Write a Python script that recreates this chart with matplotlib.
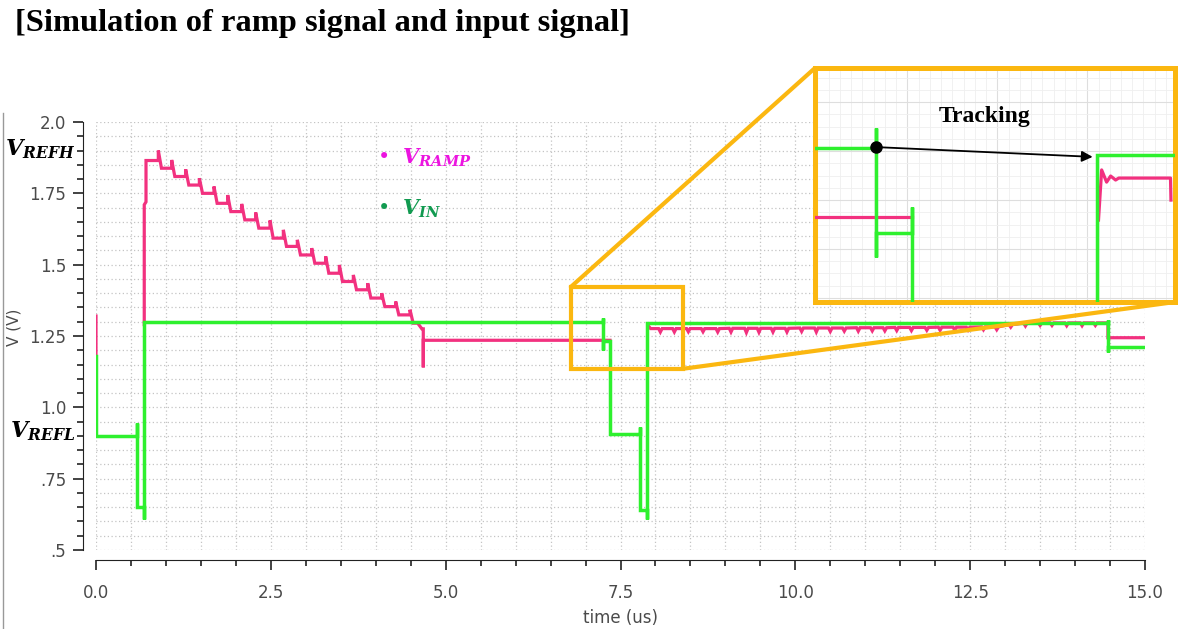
import matplotlib
matplotlib.use("Agg")
import numpy as np
import matplotlib.pyplot as plt
from matplotlib.ticker import MultipleLocator, FixedLocator, FixedFormatter
from matplotlib.patches import Rectangle, ConnectionPatch
from matplotlib.lines import Line2D

plt.rcParams['mathtext.fontset'] = 'custom'
plt.rcParams['mathtext.it'] = 'DejaVu Serif:italic:bold'
plt.rcParams['mathtext.rm'] = 'DejaVu Serif:bold'

PINK = '#f2317f'
GREEN = '#2ef02e'
ORANGE = '#fbb710'

# ---- V_IN (time in us, volts) ----
vin_t = [0.0, 0.0, 0.59, 0.59, 0.59, 0.69, 0.69, 0.69, 7.25, 7.25, 7.25, 7.25,
         7.35, 7.35, 7.78, 7.78, 7.78, 7.88, 7.88, 7.88, 14.47, 14.47, 14.47, 14.47, 15.0]
vin_v = [1.18, 0.90, 0.90, 0.945, 0.65, 0.65, 0.61, 1.30, 1.30, 1.314, 1.20, 1.233,
         1.233, 0.905, 0.905, 0.93, 0.64, 0.64, 0.607, 1.296, 1.296, 1.307, 1.195, 1.212, 1.212]

# ---- V_RAMP ----
ramp_start_t = [0.0, 0.0]
ramp_start_v = [1.32, 1.18]
ramp_rise_t = [0.69, 0.69, 0.715, 0.715]
ramp_rise_v = [1.29, 1.71, 1.72, 1.865]
ramp_step_t = [0.891, 1.082, 1.282, 1.478, 1.687, 1.883, 2.083, 2.283, 2.488, 2.679,
               2.879, 3.084, 3.284, 3.480, 3.680, 3.885, 4.085, 4.285, 4.490]
ramp_peak_v = [1.900, 1.867, 1.834, 1.803, 1.774, 1.744, 1.713, 1.683, 1.655, 1.622,
               1.587, 1.558, 1.529, 1.499, 1.464, 1.435, 1.400, 1.371, 1.342]
ramp_level_v = [1.838, 1.809, 1.779, 1.750, 1.715, 1.686, 1.657, 1.628, 1.593, 1.564,
                1.534, 1.505, 1.470, 1.441, 1.412, 1.383, 1.353, 1.324, 1.295]
ramp_hold_t = [4.60, 4.66, 4.68, 4.68, 4.68, 7.35]
ramp_hold_v = [1.295, 1.275, 1.275, 1.14, 1.235, 1.235]

track_dip_t = [8.07, 8.27, 8.47, 8.68, 8.89, 9.08, 9.30, 9.48, 9.68, 9.88, 10.09, 10.30,
               10.50, 10.70, 10.90, 11.10, 11.28, 11.45, 11.66, 11.88, 12.07, 12.28,
               12.47, 12.69, 12.88, 13.08, 13.29, 13.50, 13.67, 13.88, 14.10, 14.29]
track_base_v = [1.276, 1.276, 1.276, 1.276, 1.276, 1.277, 1.277, 1.277, 1.277, 1.277,
                1.278, 1.278, 1.278, 1.278, 1.279, 1.279, 1.279, 1.280, 1.280, 1.280,
                1.281, 1.281, 1.281, 1.282, 1.282, 1.290, 1.295, 1.296, 1.296, 1.296,
                1.296, 1.296]
track_dip_v = [1.264, 1.264, 1.265, 1.265, 1.264, 1.264, 1.262, 1.263, 1.264, 1.264,
               1.266, 1.264, 1.266, 1.267, 1.267, 1.268, 1.268, 1.269, 1.269, 1.270,
               1.270, 1.270, 1.271, 1.272, 1.272, 1.281, 1.285, 1.287, 1.287, 1.286,
               1.286, 1.287]
track_end_t = [14.47, 14.47, 15.0]
track_end_v = [1.296, 1.244, 1.244]

# ---- inset (zoom of the orange box) ----
box_t = [6.79, 8.39]
box_v = [1.135, 1.422]
ins_vin_a_t = [6.79, 7.06, 7.06, 7.06, 7.06, 7.22, 7.22, 7.22]
ins_vin_a_v = [1.324, 1.324, 1.348, 1.190, 1.2195, 1.2195, 1.251, 1.135]
ins_vin_b_t = [8.042, 8.042, 8.39]
ins_vin_b_v = [1.135, 1.315, 1.315]
ins_ramp_a_t = [6.79, 7.22]
ins_ramp_a_v = [1.239, 1.239]
ins_ramp_b_t = [8.05, 8.064, 8.086, 8.104, 8.126, 8.14, 8.370, 8.372]
ins_ramp_b_v = [1.2355, 1.297, 1.282, 1.2895, 1.2846, 1.287, 1.287, 1.260]
track_from = (7.06, 1.325)
track_to = (8.024, 1.313)

# build ramp polyline
rt = list(ramp_start_t) + [np.nan] + list(ramp_rise_t)
rv = list(ramp_start_v) + [np.nan] + list(ramp_rise_v)
prev = ramp_rise_v[-1]
for t, pk, lv in zip(ramp_step_t, ramp_peak_v, ramp_level_v):
    rt += [t, t, t + 0.045]
    rv += [prev, pk, lv]
    prev = lv
rt += ramp_hold_t + [np.nan, 7.90, 7.93]
rv += ramp_hold_v + [np.nan, 1.285, 1.276]
for t, b, d in zip(track_dip_t, track_base_v, track_dip_v):
    rt += [t - 0.025, t, t + 0.025]
    rv += [b, d, b]
rt += track_end_t
rv += track_end_v

fig = plt.figure(figsize=(11.91, 6.29), dpi=100)
ax = fig.add_axes([96 / 1191, 1 - 550 / 629, 1049 / 1191, 428 / 629])

ax.plot(rt, rv, color=PINK, lw=2.3, zorder=3, solid_joinstyle='miter')
ax.plot(vin_t, vin_v, color=GREEN, lw=2.5, zorder=4, solid_joinstyle='miter')

ax.set_xlim(0, 15)
ax.set_ylim(0.5, 2.0)
for s in ['top', 'right']:
    ax.spines[s].set_visible(False)
ax.spines['left'].set_position(('outward', 9.4))
ax.spines['bottom'].set_position(('outward', 7.2))
ax.spines['left'].set_color('#222222')
ax.spines['bottom'].set_color('#222222')

ax.xaxis.set_major_locator(MultipleLocator(2.5))
ax.xaxis.set_minor_locator(MultipleLocator(0.5))
ax.yaxis.set_major_locator(FixedLocator([0.5, 0.75, 1.0, 1.25, 1.5, 1.75, 2.0]))
ax.yaxis.set_major_formatter(FixedFormatter(['.5', '.75', '1.0', '1.25', '1.5', '1.75', '2.0']))
ax.yaxis.set_minor_locator(MultipleLocator(0.05))
ax.tick_params(which='major', length=7, width=1.2, color='#222222', labelsize=12, labelcolor='#4a4a4a')
ax.tick_params(which='minor', length=4.5, width=1.2, color='#222222')
ax.tick_params(axis='x', which='major', pad=10)
ax.tick_params(axis='y', which='major', pad=5)
ax.grid(which='both', color='#c4c4c4', lw=0.9, ls=(0, (1, 2)))
ax.set_axisbelow(True)

ax.set_xlabel('time (us)', fontsize=12, color='#4a4a4a')
ax.set_ylabel('V (V)', fontsize=11, color='#4a4a4a')
ax.xaxis.set_label_coords(0.5, -0.138)
ax.yaxis.set_label_coords(-0.071, 0.52)

ax.text(-0.020, 1.905, r'$V_{REFH}$', transform=ax.get_yaxis_transform(),
        ha='right', va='center', fontsize=16, color='black', clip_on=False)
ax.text(-0.020, 0.918, r'$V_{REFL}$', transform=ax.get_yaxis_transform(),
        ha='right', va='center', fontsize=16, color='black', clip_on=False)

ax.text(4.02, 1.876, r'•  $V_{RAMP}$', ha='left', va='center', fontsize=15, color='#ec14e0')
ax.text(4.02, 1.697, r'•  $V_{IN}$', ha='left', va='center', fontsize=15, color='#119a50')

ax.add_patch(Rectangle((box_t[0], box_v[0]), box_t[1] - box_t[0], box_v[1] - box_v[0],
                       fill=False, ec=ORANGE, lw=3, zorder=6, clip_on=False))

# inset
axins = fig.add_axes([815 / 1191, 1 - 302 / 629, 360 / 1191, 234 / 629])
axins.plot(ins_ramp_a_t, ins_ramp_a_v, color=PINK, lw=2.3, zorder=3)
axins.plot(ins_ramp_b_t, ins_ramp_b_v, color=PINK, lw=2.3, zorder=3)
axins.plot(ins_vin_a_t, ins_vin_a_v, color=GREEN, lw=2.5, zorder=4, solid_joinstyle='miter')
axins.plot(ins_vin_b_t, ins_vin_b_v, color=GREEN, lw=2.5, zorder=4, solid_joinstyle='miter')
axins.set_xlim(box_t)
axins.set_ylim(box_v)
axins.xaxis.set_major_locator(MultipleLocator(0.4))
axins.xaxis.set_minor_locator(MultipleLocator(0.05))
axins.yaxis.set_major_locator(MultipleLocator(0.06))
axins.yaxis.set_minor_locator(MultipleLocator(0.015))
axins.grid(which='major', color='#dedede', lw=0.8)
axins.grid(which='minor', color='#efefef', lw=0.6)
axins.set_axisbelow(True)
axins.tick_params(which='both', length=0, labelbottom=False, labelleft=False)
for s in axins.spines.values():
    s.set_color(ORANGE)
    s.set_linewidth(3.6)
axins.annotate('', xy=track_to, xytext=track_from,
               arrowprops=dict(arrowstyle='-|>', color='black', lw=1.3,
                               mutation_scale=16, shrinkA=0, shrinkB=0), zorder=6)
axins.plot([track_from[0]], [track_from[1]], 'o', color='black', ms=8, zorder=7)
axins.text(7.545, 1.362, 'Tracking', ha='center', va='center', fontsize=17,
           fontweight='bold', family='Liberation Serif')

for xa, xb in [((box_t[0], box_v[1]), (0, 1)), ((box_t[1], box_v[0]), (1, 0))]:
    con = ConnectionPatch(xyA=xa, coordsA=ax.transData, xyB=xb, coordsB=axins.transAxes,
                          color=ORANGE, lw=3, zorder=8)
    fig.add_artist(con)

fig.text(15 / 1191, 1 - 23 / 629, '[Simulation of ramp signal and input signal]',
         ha='left', va='center', fontsize=23.4, fontweight='bold', family='Liberation Serif')
fig.add_artist(Line2D([3 / 1191, 3 / 1191], [0, 1 - 113 / 629], color='#999999', lw=1))

fig.savefig('out.png', dpi=100)
